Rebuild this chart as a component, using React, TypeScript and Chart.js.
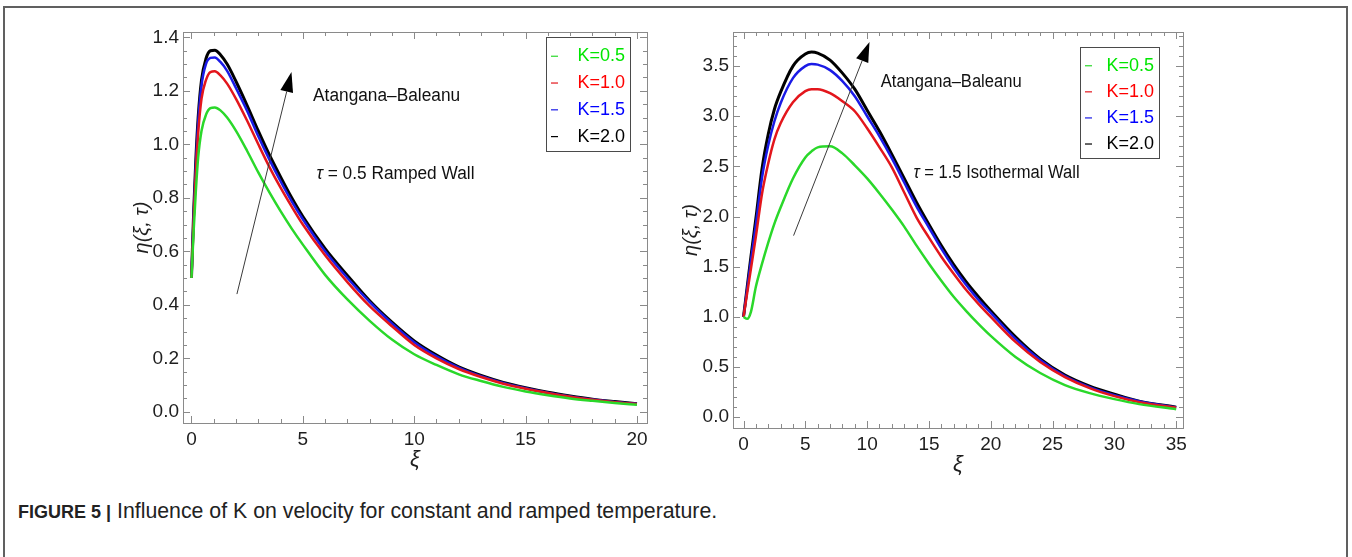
import React, { useEffect, useRef } from "react";
import { Chart, registerables } from "chart.js";

Chart.register(...registerables);

// ---------- data ----------
const seriesLabels = ["K=0.5", "K=1.0", "K=1.5", "K=2.0"];
const lineColors = ["#2ad82a", "#e3161c", "#1a1ae6", "#000000"];
const legendTextColors = ["#00e600", "#ff0000", "#0000ff", "#000000"];

// Left panel: τ = 0.5 ramped wall
const leftXi = [0, 0.1, 0.2, 0.3, 0.45, 0.65, 0.85, 1.05, 1.3, 1.6, 2, 2.5, 3, 3.5, 4, 4.5, 5, 6, 7, 8, 9, 10, 11, 12, 13, 14, 15, 16, 17, 18, 19, 20];
const leftK05 = [0.5, 0.68, 0.83, 0.95, 1.05, 1.11, 1.135, 1.138, 1.127, 1.1, 1.05, 0.975, 0.895, 0.82, 0.75, 0.685, 0.625, 0.512, 0.42, 0.34, 0.27, 0.215, 0.175, 0.14, 0.115, 0.093, 0.076, 0.062, 0.05, 0.041, 0.033, 0.026];
const leftK10 = [0.5, 0.72, 0.9, 1.04, 1.17, 1.24, 1.27, 1.273, 1.258, 1.227, 1.17, 1.088, 1.0, 0.915, 0.838, 0.767, 0.7, 0.585, 0.485, 0.395, 0.32, 0.25, 0.2, 0.16, 0.13, 0.105, 0.086, 0.07, 0.056, 0.045, 0.036, 0.029];
const leftK15 = [0.5, 0.74, 0.93, 1.08, 1.22, 1.3, 1.323, 1.325, 1.308, 1.275, 1.21, 1.125, 1.03, 0.943, 0.862, 0.787, 0.72, 0.6, 0.5, 0.41, 0.33, 0.26, 0.207, 0.165, 0.133, 0.108, 0.088, 0.071, 0.057, 0.046, 0.037, 0.03];
const leftK20 = [0.5, 0.75, 0.95, 1.1, 1.24, 1.32, 1.35, 1.352, 1.335, 1.3, 1.235, 1.145, 1.05, 0.96, 0.878, 0.8, 0.73, 0.61, 0.51, 0.415, 0.335, 0.265, 0.212, 0.168, 0.136, 0.11, 0.09, 0.073, 0.059, 0.047, 0.038, 0.03];
const leftXTicks = [0, 5, 10, 15, 20];
const leftYTicks = [0, 0.2, 0.4, 0.6, 0.8, 1.0, 1.2, 1.4];

// Right panel: τ = 1.5 isothermal wall
const rightXi = [0, 0.3, 0.6, 1, 1.5, 2, 2.5, 3, 4, 5, 5.5, 6, 7, 8, 9, 10, 11, 12, 13, 14, 15, 16, 17, 18, 19, 20, 22, 24, 26, 28, 30, 32, 35];
const rightK05 = [1.0, 0.98, 1.05, 1.3, 1.53, 1.74, 1.93, 2.09, 2.38, 2.59, 2.65, 2.69, 2.7, 2.63, 2.51, 2.38, 2.23, 2.07, 1.9, 1.71, 1.53, 1.36, 1.2, 1.06, 0.93, 0.81, 0.6, 0.44, 0.32, 0.24, 0.18, 0.13, 0.08];
const rightK10 = [1.0, 1.24, 1.48, 1.8, 2.23, 2.53, 2.77, 2.93, 3.14, 3.25, 3.27, 3.27, 3.23, 3.15, 3.05, 2.88, 2.69, 2.49, 2.24, 1.99, 1.79, 1.6, 1.43, 1.27, 1.13, 1.0, 0.75, 0.55, 0.4, 0.29, 0.21, 0.15, 0.095];
const rightK15 = [1.0, 1.28, 1.56, 1.92, 2.39, 2.71, 2.95, 3.13, 3.38, 3.5, 3.52, 3.515, 3.46, 3.35, 3.2, 3.0, 2.8, 2.58, 2.34, 2.1, 1.89, 1.68, 1.49, 1.32, 1.17, 1.04, 0.78, 0.57, 0.41, 0.3, 0.22, 0.16, 0.098];
const rightK20 = [1.0, 1.3, 1.6, 1.98, 2.48, 2.82, 3.07, 3.24, 3.5, 3.62, 3.64, 3.63, 3.56, 3.43, 3.27, 3.06, 2.85, 2.62, 2.38, 2.14, 1.92, 1.71, 1.52, 1.35, 1.2, 1.06, 0.8, 0.58, 0.42, 0.31, 0.23, 0.16, 0.1];
const rightXTicks = [0, 5, 10, 15, 20, 25, 30, 35];
const rightYTicks = [0, 0.5, 1.0, 1.5, 2.0, 2.5, 3.0, 3.5];

const captionBold = "FIGURE 5 |";
const captionText = " Influence of K on velocity for constant and ramped temperature.";

// ---------- styling ----------
const FONT = "'Liberation Sans', Arial, sans-serif";
const TICK_COLOR = "#1e1e1e";
const FRAME_COLOR = "#8a8a8a";

// Frame with inward ticks on all four sides
const framePlugin = {
  id: "frame",
  afterDatasetsDraw(chart: any, _a: any, opts: any) {
    const { ctx, chartArea: a, scales } = chart;
    const xs = scales.x, ys = scales.y;
    ctx.save();
    ctx.strokeStyle = FRAME_COLOR;
    ctx.lineWidth = 1;
    ctx.strokeRect(Math.round(a.left) + 0.5, Math.round(a.top) + 0.5, Math.round(a.right - a.left), Math.round(a.bottom - a.top));
    const drawX = (v: number, len: number) => {
      const p = Math.round(xs.getPixelForValue(v)) + 0.5;
      ctx.beginPath();
      ctx.moveTo(p, a.bottom); ctx.lineTo(p, a.bottom - len);
      ctx.moveTo(p, a.top); ctx.lineTo(p, a.top + len);
      ctx.stroke();
    };
    const drawY = (v: number, len: number) => {
      const p = Math.round(ys.getPixelForValue(v)) + 0.5;
      ctx.beginPath();
      ctx.moveTo(a.left, p); ctx.lineTo(a.left + len, p);
      ctx.moveTo(a.right, p); ctx.lineTo(a.right - len, p);
      ctx.stroke();
    };
    const eps = 1e-9;
    for (let v = opts.xMinor.start; v <= opts.xMinor.end + eps; v += opts.xMinor.step) {
      const major = opts.xMajor.some((m: number) => Math.abs(m - v) < 1e-6);
      drawX(v, major ? 7 : 4);
    }
    for (let v = opts.yMinor.start; v <= opts.yMinor.end + eps; v += opts.yMinor.step) {
      const major = opts.yMajor.some((m: number) => Math.abs(m - v) < 1e-6);
      drawY(v, major ? 7 : 4);
    }
    ctx.restore();
  },
};

// Annotations (arrow + texts) and boxed legend
const notesPlugin = {
  id: "notes",
  afterDraw(chart: any, _a: any, opts: any) {
    const { ctx, chartArea: a, scales } = chart;
    const xs = scales.x, ys = scales.y;
    ctx.save();
    // arrow
    const ar = opts.arrow;
    const x0 = xs.getPixelForValue(ar.x0), y0 = ys.getPixelForValue(ar.y0);
    const x1 = xs.getPixelForValue(ar.x1), y1 = ys.getPixelForValue(ar.y1);
    const ang = Math.atan2(y1 - y0, x1 - x0);
    const hl = 20, hw = 6.5;
    const bx = x1 - hl * Math.cos(ang), by = y1 - hl * Math.sin(ang);
    ctx.strokeStyle = "#3a3a3a";
    ctx.lineWidth = 1;
    ctx.beginPath(); ctx.moveTo(x0, y0); ctx.lineTo(bx, by); ctx.stroke();
    ctx.fillStyle = "#000";
    ctx.beginPath();
    ctx.moveTo(x1, y1);
    ctx.lineTo(bx + hw * Math.sin(ang), by - hw * Math.cos(ang));
    ctx.lineTo(bx - hw * Math.sin(ang), by + hw * Math.cos(ang));
    ctx.closePath(); ctx.fill();
    // texts (slightly condensed)
    ctx.textBaseline = "middle";
    ctx.textAlign = "left";
    ctx.fillStyle = "#111";
    for (const t of opts.texts) {
      const px0 = xs.getPixelForValue(t.x);
      const py = ys.getPixelForValue(t.y);
      ctx.save();
      ctx.translate(px0, py);
      ctx.scale(opts.textScaleX, 1);
      let px = 0;
      for (const part of t.parts) {
        ctx.font = `${part.italic ? "italic " : ""}${opts.textSize}px ${FONT}`;
        ctx.fillText(part.s, px, 0);
        px += ctx.measureText(part.s).width;
      }
      ctx.restore();
    }
    // legend
    const lg = opts.legend;
    const L = a.right - lg.rightInset - lg.width;
    const T = a.top + lg.topInset;
    ctx.fillStyle = "#fff";
    ctx.fillRect(L, T, lg.width, lg.height);
    ctx.strokeStyle = "#4a4a4a";
    ctx.lineWidth = 1;
    ctx.strokeRect(Math.round(L) + 0.5, Math.round(T) + 0.5, Math.round(lg.width), Math.round(lg.height));
    ctx.font = `${opts.legendSize}px ${FONT}`;
    ctx.textAlign = "right";
    chart.data.datasets.forEach((ds: any, i: number) => {
      const cy = T + lg.height * (0.16 + 0.235 * i) + 1;
      ctx.strokeStyle = ds.borderColor;
      ctx.lineWidth = 1.2;
      ctx.beginPath(); ctx.moveTo(L + 5, cy); ctx.lineTo(L + 12, cy); ctx.stroke();
      ctx.fillStyle = legendTextColors[i];
      ctx.fillText(ds.label, L + lg.width - 5, cy);
    });
    ctx.restore();
  },
};

function makeConfig(p: any) {
  const series = p.series as number[][];
  return {
    type: "line",
    data: {
      datasets: series.map((ys, i) => ({
        label: seriesLabels[i],
        data: p.xi.map((x: number, j: number) => ({ x, y: ys[j] })),
        borderColor: lineColors[i],
        borderWidth: i === 3 ? 3 : 2.5,
        pointRadius: 0,
        fill: false,
        cubicInterpolationMode: "monotone",
      })),
    },
    options: {
      animation: false,
      responsive: false,
      devicePixelRatio: 1,
      layout: { padding: { top: p.padTop, right: p.padRight, left: 0, bottom: 0 } },
      plugins: {
        legend: { display: false },
        tooltip: { enabled: false },
        frame: p.frame,
        notes: p.notes,
      },
      scales: {
        x: {
          type: "linear",
          min: p.xMin,
          max: p.xMax,
          afterBuildTicks: (s: any) => { s.ticks = p.xTicks.map((v: number) => ({ value: v })); },
          afterFit: (s: any) => { s.height = p.xAxisH; },
          grid: { display: false, drawTicks: false },
          border: { display: false },
          ticks: { padding: p.xTickPad, autoSkip: false, maxRotation: 0, color: TICK_COLOR, font: { family: FONT, size: 19 }, callback: (v: any) => String(v) },
          title: { display: true, text: "ξ", color: "#1e1e1e", font: { family: FONT, size: 22, style: "italic" }, padding: { top: 0, bottom: p.xTitlePad } },
        },
        y: {
          type: "linear",
          min: p.yMin,
          max: p.yMax,
          afterBuildTicks: (s: any) => { s.ticks = p.yTicks.map((v: number) => ({ value: v })); },
          afterFit: (s: any) => { s.width = p.yAxisW; },
          grid: { display: false, drawTicks: false },
          border: { display: false },
          ticks: { padding: 4, color: TICK_COLOR, font: { family: FONT, size: 19 }, callback: (v: any) => Number(v).toFixed(1) },
          title: { display: true, text: "η(ξ, τ)", color: "#1e1e1e", font: { family: FONT, size: 20, style: "italic" }, padding: { top: p.yTitlePad, bottom: 0 } },
        },
      },
    },
    plugins: [framePlugin, notesPlugin],
  };
}

const leftConfig = () =>
  makeConfig({
    xi: leftXi,
    series: [leftK05, leftK10, leftK15, leftK20],
    xMin: -0.38, xMax: 20.45, yMin: -0.042, yMax: 1.42,
    xTicks: leftXTicks, yTicks: leftYTicks,
    padTop: 32, padRight: 8, xAxisH: 53, yAxisW: 58, xTickPad: 5, xTitlePad: 3, yTitlePad: 5,
    frame: { xMajor: leftXTicks, yMajor: leftYTicks, xMinor: { start: 0, end: 20, step: 1 }, yMinor: { start: 0, end: 1.4, step: 0.05 } },
    notes: {
      textSize: 18,
      textScaleX: 0.96,
      legendSize: 18,
      arrow: { x0: 2.04, y0: 0.44, x1: 4.49, y1: 1.27 },
      texts: [
        { x: 5.46, y: 1.18, parts: [{ s: "Atangana–Baleanu" }] },
        { x: 5.61, y: 0.89, parts: [{ s: "τ", italic: true }, { s: " = 0.5 Ramped Wall" }] },
      ],
      legend: { width: 84, height: 114, rightInset: 17, topInset: 5 },
    },
  });

const rightConfig = () =>
  makeConfig({
    xi: rightXi,
    series: [rightK05, rightK10, rightK15, rightK20],
    xMin: -0.85, xMax: 35.55, yMin: -0.108, yMax: 3.84,
    xTicks: rightXTicks, yTicks: rightYTicks,
    padTop: 32, padRight: 12, xAxisH: 53, yAxisW: 58, xTickPad: 5, xTitlePad: 3, yTitlePad: 4,
    frame: { xMajor: rightXTicks, yMajor: rightYTicks, xMinor: { start: 0, end: 35, step: 1 }, yMinor: { start: 0, end: 3.8, step: 0.1 } },
    notes: {
      textSize: 18,
      textScaleX: 0.92,
      legendSize: 18,
      arrow: { x0: 4.05, y0: 1.81, x1: 10.19, y1: 3.74 },
      texts: [
        { x: 11.1, y: 3.34, parts: [{ s: "Atangana–Baleanu" }] },
        { x: 13.75, y: 2.43, parts: [{ s: "τ", italic: true }, { s: " = 1.5 Isothermal Wall" }] },
      ],
      legend: { width: 79, height: 111, rightInset: 24, topInset: 15 },
    },
  });

function Panel(props: { left: number; top: number; width: number; height: number; make: () => any }) {
  const ref = useRef<HTMLCanvasElement>(null);
  useEffect(() => {
    const chart = new Chart(ref.current as HTMLCanvasElement, props.make());
    return () => chart.destroy();
  }, []);
  return (
    <canvas
      ref={ref}
      width={props.width}
      height={props.height}
      style={{ position: "absolute", left: props.left, top: props.top, width: props.width, height: props.height }}
    />
  );
}

export default function App() {
  return (
    <div style={{ position: "fixed", left: 0, top: 0, width: 1352, height: 557, background: "#fff", overflow: "hidden" }}>
      <div
        style={{
          position: "absolute", left: 3, top: 6, width: 1345, height: 600,
          borderLeft: "2px solid #606060", borderTop: "2px solid #606060", borderRight: "2px solid #606060",
          boxSizing: "border-box",
        }}
      />
      <Panel left={125} top={0} width={530} height={476} make={leftConfig} />
      <Panel left={675} top={0} width={520} height={481} make={rightConfig} />
      <div
        style={{
          position: "absolute", left: 18, top: 499, whiteSpace: "nowrap",
          fontFamily: "'Liberation Sans', Arial, sans-serif", color: "#222",
        }}
      >
        <span style={{ fontWeight: "bold", fontSize: 18 }}>{captionBold}</span>
        <span style={{ fontSize: 21.3 }}>{captionText}</span>
      </div>
    </div>
  );
}
